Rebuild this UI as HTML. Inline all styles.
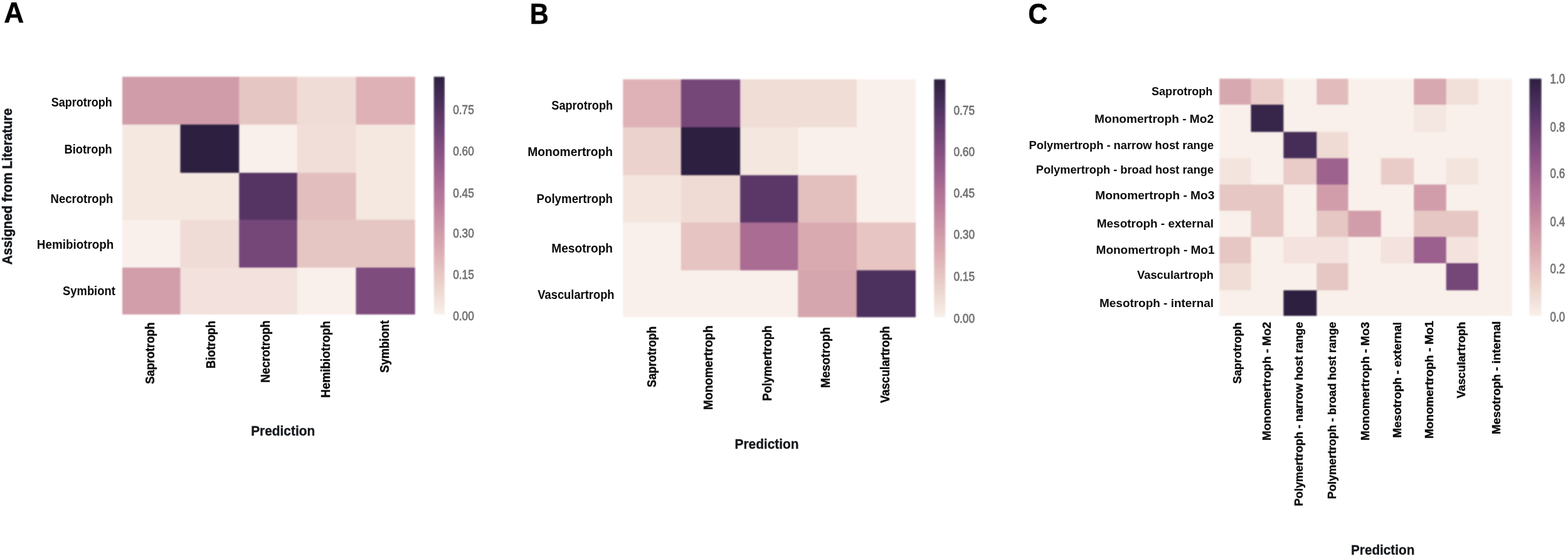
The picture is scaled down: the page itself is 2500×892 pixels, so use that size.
<!DOCTYPE html>
<html lang="en">
<head>
<meta charset="utf-8">
<title>Confusion matrices of trophic class predictions</title>
<style>
html,body{margin:0;padding:0;background:#fff;}
body{width:2500px;height:892px;}
svg{display:block;font-family:"Liberation Sans",Arial,Helvetica,sans-serif;}
</style>
</head>
<body>
<svg role="img" aria-label="Heatmap confusion matrices A, B and C" width="2500" height="892" viewBox="0 0 2500 892">
<defs>
<filter id="soft" x="-5%" y="-5%" width="110%" height="110%" color-interpolation-filters="sRGB"><feGaussianBlur stdDeviation="0.8"/></filter>
</defs>
<g>
<rect x="0" y="0" width="2500" height="892" fill="#ffffff"/>
<mask id="hm1" maskUnits="userSpaceOnUse" x="191.00" y="118.50" width="474.75" height="387.30"><rect x="195.00" y="122.50" width="466.75" height="379.30" fill="#fff"/></mask>
<g filter="url(#soft)"><g mask="url(#hm1)">
<rect x="192.00" y="119.50" width="97.00" height="80.75" fill="#d19caa"/>
<rect x="287.50" y="119.50" width="95.25" height="80.75" fill="#d19caa"/>
<rect x="381.25" y="119.50" width="94.00" height="80.75" fill="#e6c6c3"/>
<rect x="473.75" y="119.50" width="95.25" height="80.75" fill="#f0dcd7"/>
<rect x="567.50" y="119.50" width="97.25" height="80.75" fill="#deb1b6"/>
<rect x="192.00" y="198.75" width="97.00" height="78.50" fill="#f4e8e1"/>
<rect x="287.50" y="198.75" width="95.25" height="78.50" fill="#2d1f3f"/>
<rect x="381.25" y="198.75" width="94.00" height="78.50" fill="#f9f0eb"/>
<rect x="473.75" y="198.75" width="95.25" height="78.50" fill="#f1ded8"/>
<rect x="567.50" y="198.75" width="97.25" height="78.50" fill="#f4e8e1"/>
<rect x="192.00" y="275.75" width="97.00" height="76.50" fill="#f4e8e1"/>
<rect x="287.50" y="275.75" width="95.25" height="76.50" fill="#f4e8e1"/>
<rect x="381.25" y="275.75" width="94.00" height="76.50" fill="#553464"/>
<rect x="473.75" y="275.75" width="95.25" height="76.50" fill="#e3bebe"/>
<rect x="567.50" y="275.75" width="97.25" height="76.50" fill="#f4e8e1"/>
<rect x="192.00" y="350.75" width="97.00" height="77.75" fill="#f9f0eb"/>
<rect x="287.50" y="350.75" width="95.25" height="77.75" fill="#f0dcd7"/>
<rect x="381.25" y="350.75" width="94.00" height="77.75" fill="#754678"/>
<rect x="473.75" y="350.75" width="95.25" height="77.75" fill="#e6c6c3"/>
<rect x="567.50" y="350.75" width="97.25" height="77.75" fill="#e6c6c3"/>
<rect x="192.00" y="427.00" width="97.00" height="77.80" fill="#d29eaa"/>
<rect x="287.50" y="427.00" width="95.25" height="77.80" fill="#f2e1dc"/>
<rect x="381.25" y="427.00" width="94.00" height="77.80" fill="#f2e1dc"/>
<rect x="473.75" y="427.00" width="95.25" height="77.80" fill="#f9f0eb"/>
<rect x="567.50" y="427.00" width="97.25" height="77.80" fill="#7e4c7d"/>
</g></g>
<linearGradient id="ga" x1="0" y1="0" x2="0" y2="1"><stop offset="0.0000" stop-color="#2d1f3f"/><stop offset="0.0312" stop-color="#362448"/><stop offset="0.0625" stop-color="#3e2950"/><stop offset="0.0938" stop-color="#472d59"/><stop offset="0.1250" stop-color="#503260"/><stop offset="0.1562" stop-color="#5a3767"/><stop offset="0.1875" stop-color="#633c6d"/><stop offset="0.2188" stop-color="#6d4173"/><stop offset="0.2500" stop-color="#754678"/><stop offset="0.2812" stop-color="#7e4c7d"/><stop offset="0.3125" stop-color="#875182"/><stop offset="0.3438" stop-color="#905787"/><stop offset="0.3750" stop-color="#975d8b"/><stop offset="0.4062" stop-color="#9f638f"/><stop offset="0.4375" stop-color="#a76992"/><stop offset="0.4688" stop-color="#ae7095"/><stop offset="0.5000" stop-color="#b47699"/><stop offset="0.5312" stop-color="#ba7d9c"/><stop offset="0.5625" stop-color="#c0849f"/><stop offset="0.5938" stop-color="#c68ca2"/><stop offset="0.6250" stop-color="#cb93a6"/><stop offset="0.6562" stop-color="#d09baa"/><stop offset="0.6875" stop-color="#d5a3ad"/><stop offset="0.7188" stop-color="#d9a9b1"/><stop offset="0.7500" stop-color="#deb1b6"/><stop offset="0.7812" stop-color="#e1babb"/><stop offset="0.8125" stop-color="#e4c2c0"/><stop offset="0.8438" stop-color="#e8cac5"/><stop offset="0.8750" stop-color="#ebd2cc"/><stop offset="0.9062" stop-color="#eedad3"/><stop offset="0.9375" stop-color="#f2e1db"/><stop offset="0.9688" stop-color="#f5e9e2"/><stop offset="1.0000" stop-color="#f9f0eb"/></linearGradient>
<rect x="691.70" y="122.50" width="17.20" height="379.30" fill="url(#ga)" filter="url(#soft)"/>
<text x="722.20" y="182.00" font-size="21.0" font-weight="normal" fill="#747474" stroke="#747474" stroke-width="0.80" stroke-linejoin="round" textLength="33.60" lengthAdjust="spacingAndGlyphs">0.75</text>
<text x="722.20" y="248.25" font-size="21.0" font-weight="normal" fill="#747474" stroke="#747474" stroke-width="0.80" stroke-linejoin="round" textLength="33.60" lengthAdjust="spacingAndGlyphs">0.60</text>
<text x="722.20" y="314.50" font-size="21.0" font-weight="normal" fill="#747474" stroke="#747474" stroke-width="0.80" stroke-linejoin="round" textLength="33.60" lengthAdjust="spacingAndGlyphs">0.45</text>
<text x="722.20" y="379.00" font-size="21.0" font-weight="normal" fill="#747474" stroke="#747474" stroke-width="0.80" stroke-linejoin="round" textLength="33.60" lengthAdjust="spacingAndGlyphs">0.30</text>
<text x="722.20" y="445.00" font-size="21.0" font-weight="normal" fill="#747474" stroke="#747474" stroke-width="0.80" stroke-linejoin="round" textLength="33.60" lengthAdjust="spacingAndGlyphs">0.15</text>
<text x="722.20" y="511.25" font-size="21.0" font-weight="normal" fill="#747474" stroke="#747474" stroke-width="0.80" stroke-linejoin="round" textLength="33.60" lengthAdjust="spacingAndGlyphs">0.00</text>
<text x="81.80" y="170.30" font-size="19.3" font-weight="bold" fill="#0a0a0a" textLength="97.00" lengthAdjust="spacingAndGlyphs">Saprotroph</text>
<text x="102.55" y="244.80" font-size="19.3" font-weight="bold" fill="#0a0a0a" textLength="76.25" lengthAdjust="spacingAndGlyphs">Biotroph</text>
<text x="80.55" y="323.55" font-size="19.3" font-weight="bold" fill="#0a0a0a" textLength="99.75" lengthAdjust="spacingAndGlyphs">Necrotroph</text>
<text x="58.80" y="396.80" font-size="19.3" font-weight="bold" fill="#0a0a0a" textLength="122.50" lengthAdjust="spacingAndGlyphs">Hemibiotroph</text>
<text x="100.05" y="470.55" font-size="19.3" font-weight="bold" fill="#0a0a0a" textLength="83.75" lengthAdjust="spacingAndGlyphs">Symbiont</text>
<text transform="translate(246.25 612.65) rotate(-90)" font-size="19.3" font-weight="bold" fill="#0a0a0a" stroke="#0a0a0a" stroke-width="0.40" stroke-linejoin="round" textLength="98.25" lengthAdjust="spacingAndGlyphs">Saprotroph</text>
<text transform="translate(342.50 587.90) rotate(-90)" font-size="19.3" font-weight="bold" fill="#0a0a0a" stroke="#0a0a0a" stroke-width="0.40" stroke-linejoin="round" textLength="76.00" lengthAdjust="spacingAndGlyphs">Biotroph</text>
<text transform="translate(430.00 610.40) rotate(-90)" font-size="19.3" font-weight="bold" fill="#0a0a0a" stroke="#0a0a0a" stroke-width="0.40" stroke-linejoin="round" textLength="99.25" lengthAdjust="spacingAndGlyphs">Necrotroph</text>
<text transform="translate(525.75 634.65) rotate(-90)" font-size="19.3" font-weight="bold" fill="#0a0a0a" stroke="#0a0a0a" stroke-width="0.40" stroke-linejoin="round" textLength="122.75" lengthAdjust="spacingAndGlyphs">Hemibiotroph</text>
<text transform="translate(619.50 594.65) rotate(-90)" font-size="19.3" font-weight="bold" fill="#0a0a0a" stroke="#0a0a0a" stroke-width="0.40" stroke-linejoin="round" textLength="83.50" lengthAdjust="spacingAndGlyphs">Symbiont</text>
<text x="400.20" y="694.70" font-size="22.3" font-weight="bold" fill="#14181c" stroke="#14181c" stroke-width="0.35" stroke-linejoin="round" textLength="102.00" lengthAdjust="spacingAndGlyphs">Prediction</text>
<text transform="translate(19.10 422.30) rotate(-90)" font-size="22.3" font-weight="bold" fill="#14181c" stroke="#14181c" stroke-width="0.60" stroke-linejoin="round" textLength="249.50" lengthAdjust="spacingAndGlyphs">Assigned from Literature</text>
<text x="6.30" y="35.70" font-size="46.2" font-weight="bold" fill="#000" stroke="#000" stroke-width="0.50" stroke-linejoin="round" textLength="32.00" lengthAdjust="spacingAndGlyphs">A</text>
<mask id="hm2" maskUnits="userSpaceOnUse" x="989.25" y="122.60" width="474.75" height="387.60"><rect x="993.25" y="126.60" width="466.75" height="379.60" fill="#fff"/></mask>
<g filter="url(#soft)"><g mask="url(#hm2)">
<rect x="990.25" y="123.60" width="97.10" height="81.00" fill="#deb2b6"/>
<rect x="1085.85" y="123.60" width="95.75" height="81.00" fill="#754678"/>
<rect x="1180.10" y="123.60" width="93.60" height="81.00" fill="#efddd6"/>
<rect x="1272.20" y="123.60" width="95.15" height="81.00" fill="#efddd6"/>
<rect x="1365.85" y="123.60" width="97.15" height="81.00" fill="#f9f0eb"/>
<rect x="990.25" y="203.10" width="97.10" height="78.00" fill="#ebd2cc"/>
<rect x="1085.85" y="203.10" width="95.75" height="78.00" fill="#2d1f3f"/>
<rect x="1180.10" y="203.10" width="93.60" height="78.00" fill="#f4e7e0"/>
<rect x="1272.20" y="203.10" width="95.15" height="78.00" fill="#f9f0eb"/>
<rect x="1365.85" y="203.10" width="97.15" height="78.00" fill="#f9f0eb"/>
<rect x="990.25" y="279.60" width="97.10" height="77.05" fill="#f4e5df"/>
<rect x="1085.85" y="279.60" width="95.75" height="77.05" fill="#efdbd4"/>
<rect x="1180.10" y="279.60" width="93.60" height="77.05" fill="#5b3768"/>
<rect x="1272.20" y="279.60" width="95.15" height="77.05" fill="#e3bfbe"/>
<rect x="1365.85" y="279.60" width="97.15" height="77.05" fill="#f9f0eb"/>
<rect x="990.25" y="355.15" width="97.10" height="77.70" fill="#f9f0eb"/>
<rect x="1085.85" y="355.15" width="95.75" height="77.70" fill="#e5c4c1"/>
<rect x="1180.10" y="355.15" width="93.60" height="77.70" fill="#aa6c93"/>
<rect x="1272.20" y="355.15" width="95.15" height="77.70" fill="#daaab1"/>
<rect x="1365.85" y="355.15" width="97.15" height="77.70" fill="#e6c5c2"/>
<rect x="990.25" y="431.35" width="97.10" height="77.85" fill="#f9f0eb"/>
<rect x="1085.85" y="431.35" width="95.75" height="77.85" fill="#f9f0eb"/>
<rect x="1180.10" y="431.35" width="93.60" height="77.85" fill="#f9f0eb"/>
<rect x="1272.20" y="431.35" width="95.15" height="77.85" fill="#d6a6ae"/>
<rect x="1365.85" y="431.35" width="97.15" height="77.85" fill="#4c305d"/>
</g></g>
<linearGradient id="gb" x1="0" y1="0" x2="0" y2="1"><stop offset="0.0000" stop-color="#2d1f3f"/><stop offset="0.0312" stop-color="#362448"/><stop offset="0.0625" stop-color="#3e2950"/><stop offset="0.0938" stop-color="#472d59"/><stop offset="0.1250" stop-color="#503260"/><stop offset="0.1562" stop-color="#5a3767"/><stop offset="0.1875" stop-color="#633c6d"/><stop offset="0.2188" stop-color="#6d4173"/><stop offset="0.2500" stop-color="#754678"/><stop offset="0.2812" stop-color="#7e4c7d"/><stop offset="0.3125" stop-color="#875182"/><stop offset="0.3438" stop-color="#905787"/><stop offset="0.3750" stop-color="#975d8b"/><stop offset="0.4062" stop-color="#9f638f"/><stop offset="0.4375" stop-color="#a76992"/><stop offset="0.4688" stop-color="#ae7095"/><stop offset="0.5000" stop-color="#b47699"/><stop offset="0.5312" stop-color="#ba7d9c"/><stop offset="0.5625" stop-color="#c0849f"/><stop offset="0.5938" stop-color="#c68ca2"/><stop offset="0.6250" stop-color="#cb93a6"/><stop offset="0.6562" stop-color="#d09baa"/><stop offset="0.6875" stop-color="#d5a3ad"/><stop offset="0.7188" stop-color="#d9a9b1"/><stop offset="0.7500" stop-color="#deb1b6"/><stop offset="0.7812" stop-color="#e1babb"/><stop offset="0.8125" stop-color="#e4c2c0"/><stop offset="0.8438" stop-color="#e8cac5"/><stop offset="0.8750" stop-color="#ebd2cc"/><stop offset="0.9062" stop-color="#eedad3"/><stop offset="0.9375" stop-color="#f2e1db"/><stop offset="0.9688" stop-color="#f5e9e2"/><stop offset="1.0000" stop-color="#f9f0eb"/></linearGradient>
<rect x="1489.20" y="126.60" width="18.10" height="379.50" fill="url(#gb)" filter="url(#soft)"/>
<text x="1520.45" y="182.75" font-size="21.0" font-weight="normal" fill="#747474" stroke="#747474" stroke-width="0.80" stroke-linejoin="round" textLength="33.60" lengthAdjust="spacingAndGlyphs">0.75</text>
<text x="1520.45" y="248.75" font-size="21.0" font-weight="normal" fill="#747474" stroke="#747474" stroke-width="0.80" stroke-linejoin="round" textLength="33.60" lengthAdjust="spacingAndGlyphs">0.60</text>
<text x="1520.45" y="315.00" font-size="21.0" font-weight="normal" fill="#747474" stroke="#747474" stroke-width="0.80" stroke-linejoin="round" textLength="33.60" lengthAdjust="spacingAndGlyphs">0.45</text>
<text x="1520.45" y="381.25" font-size="21.0" font-weight="normal" fill="#747474" stroke="#747474" stroke-width="0.80" stroke-linejoin="round" textLength="33.60" lengthAdjust="spacingAndGlyphs">0.30</text>
<text x="1520.45" y="447.50" font-size="21.0" font-weight="normal" fill="#747474" stroke="#747474" stroke-width="0.80" stroke-linejoin="round" textLength="33.60" lengthAdjust="spacingAndGlyphs">0.15</text>
<text x="1520.45" y="515.25" font-size="21.0" font-weight="normal" fill="#747474" stroke="#747474" stroke-width="0.80" stroke-linejoin="round" textLength="33.60" lengthAdjust="spacingAndGlyphs">0.00</text>
<text x="879.30" y="174.80" font-size="19.3" font-weight="bold" fill="#0a0a0a" textLength="97.75" lengthAdjust="spacingAndGlyphs">Saprotroph</text>
<text x="841.30" y="249.05" font-size="19.3" font-weight="bold" fill="#0a0a0a" textLength="135.75" lengthAdjust="spacingAndGlyphs">Monomertroph</text>
<text x="855.55" y="323.55" font-size="19.3" font-weight="bold" fill="#0a0a0a" textLength="121.50" lengthAdjust="spacingAndGlyphs">Polymertroph</text>
<text x="879.30" y="402.80" font-size="19.3" font-weight="bold" fill="#0a0a0a" textLength="97.75" lengthAdjust="spacingAndGlyphs">Mesotroph</text>
<text x="857.30" y="476.80" font-size="19.3" font-weight="bold" fill="#0a0a0a" textLength="122.25" lengthAdjust="spacingAndGlyphs">Vasculartroph</text>
<text transform="translate(1046.25 617.90) rotate(-90)" font-size="19.3" font-weight="bold" fill="#0a0a0a" stroke="#0a0a0a" stroke-width="0.40" stroke-linejoin="round" textLength="97.25" lengthAdjust="spacingAndGlyphs">Saprotroph</text>
<text transform="translate(1136.25 653.90) rotate(-90)" font-size="19.3" font-weight="bold" fill="#0a0a0a" stroke="#0a0a0a" stroke-width="0.40" stroke-linejoin="round" textLength="134.50" lengthAdjust="spacingAndGlyphs">Monomertroph</text>
<text transform="translate(1230.00 639.65) rotate(-90)" font-size="19.3" font-weight="bold" fill="#0a0a0a" stroke="#0a0a0a" stroke-width="0.40" stroke-linejoin="round" textLength="120.25" lengthAdjust="spacingAndGlyphs">Polymertroph</text>
<text transform="translate(1323.25 618.90) rotate(-90)" font-size="19.3" font-weight="bold" fill="#0a0a0a" stroke="#0a0a0a" stroke-width="0.40" stroke-linejoin="round" textLength="97.00" lengthAdjust="spacingAndGlyphs">Mesotroph</text>
<text transform="translate(1417.50 642.90) rotate(-90)" font-size="19.3" font-weight="bold" fill="#0a0a0a" stroke="#0a0a0a" stroke-width="0.40" stroke-linejoin="round" textLength="122.25" lengthAdjust="spacingAndGlyphs">Vasculartroph</text>
<text x="1171.50" y="715.95" font-size="22.3" font-weight="bold" fill="#14181c" stroke="#14181c" stroke-width="0.35" stroke-linejoin="round" textLength="102.00" lengthAdjust="spacingAndGlyphs">Prediction</text>
<text x="844.70" y="38.20" font-size="46.2" font-weight="bold" fill="#000" stroke="#000" stroke-width="0.50" stroke-linejoin="round" textLength="30.00" lengthAdjust="spacingAndGlyphs">B</text>
<mask id="hm3" maskUnits="userSpaceOnUse" x="1940.25" y="121.50" width="474.50" height="386.50"><rect x="1944.25" y="125.50" width="466.50" height="378.50" fill="#fff"/></mask>
<g filter="url(#soft)"><g mask="url(#hm3)">
<rect x="1941.25" y="122.50" width="54.75" height="46.00" fill="#d8a8b0"/>
<rect x="1994.50" y="122.50" width="53.40" height="46.00" fill="#eacdc8"/>
<rect x="2046.40" y="122.50" width="54.35" height="46.00" fill="#f9f0eb"/>
<rect x="2099.25" y="122.50" width="51.75" height="46.00" fill="#e2bbbc"/>
<rect x="2149.50" y="122.50" width="53.75" height="46.00" fill="#f9f0eb"/>
<rect x="2201.75" y="122.50" width="54.00" height="46.00" fill="#f9f0eb"/>
<rect x="2254.25" y="122.50" width="53.00" height="46.00" fill="#d8a8b0"/>
<rect x="2305.75" y="122.50" width="52.50" height="46.00" fill="#f1dfd9"/>
<rect x="2356.75" y="122.50" width="57.00" height="46.00" fill="#f9f0eb"/>
<rect x="1941.25" y="167.00" width="54.75" height="45.00" fill="#f9f0eb"/>
<rect x="1994.50" y="167.00" width="53.40" height="45.00" fill="#37254a"/>
<rect x="2046.40" y="167.00" width="54.35" height="45.00" fill="#f9f0eb"/>
<rect x="2099.25" y="167.00" width="51.75" height="45.00" fill="#f9f0eb"/>
<rect x="2149.50" y="167.00" width="53.75" height="45.00" fill="#f9f0eb"/>
<rect x="2201.75" y="167.00" width="54.00" height="45.00" fill="#f9f0eb"/>
<rect x="2254.25" y="167.00" width="53.00" height="45.00" fill="#f4e6e0"/>
<rect x="2305.75" y="167.00" width="52.50" height="45.00" fill="#f9f0eb"/>
<rect x="2356.75" y="167.00" width="57.00" height="45.00" fill="#f9f0eb"/>
<rect x="1941.25" y="210.50" width="54.75" height="43.50" fill="#f9f0eb"/>
<rect x="1994.50" y="210.50" width="53.40" height="43.50" fill="#f9f0eb"/>
<rect x="2046.40" y="210.50" width="54.35" height="43.50" fill="#462d58"/>
<rect x="2099.25" y="210.50" width="51.75" height="43.50" fill="#efdbd4"/>
<rect x="2149.50" y="210.50" width="53.75" height="43.50" fill="#f9f0eb"/>
<rect x="2201.75" y="210.50" width="54.00" height="43.50" fill="#f9f0eb"/>
<rect x="2254.25" y="210.50" width="53.00" height="43.50" fill="#f9f0eb"/>
<rect x="2305.75" y="210.50" width="52.50" height="43.50" fill="#f9f0eb"/>
<rect x="2356.75" y="210.50" width="57.00" height="43.50" fill="#f9f0eb"/>
<rect x="1941.25" y="252.50" width="54.75" height="43.50" fill="#f3e4de"/>
<rect x="1994.50" y="252.50" width="53.40" height="43.50" fill="#f9f0eb"/>
<rect x="2046.40" y="252.50" width="54.35" height="43.50" fill="#e9cbc7"/>
<rect x="2099.25" y="252.50" width="51.75" height="43.50" fill="#9d628e"/>
<rect x="2149.50" y="252.50" width="53.75" height="43.50" fill="#f9f0eb"/>
<rect x="2201.75" y="252.50" width="54.00" height="43.50" fill="#e9cbc7"/>
<rect x="2254.25" y="252.50" width="53.00" height="43.50" fill="#f9f0eb"/>
<rect x="2305.75" y="252.50" width="52.50" height="43.50" fill="#f3e4de"/>
<rect x="2356.75" y="252.50" width="57.00" height="43.50" fill="#f9f0eb"/>
<rect x="1941.25" y="294.50" width="54.75" height="43.25" fill="#e6c7c3"/>
<rect x="1994.50" y="294.50" width="53.40" height="43.25" fill="#e6c7c3"/>
<rect x="2046.40" y="294.50" width="54.35" height="43.25" fill="#f9f0eb"/>
<rect x="2099.25" y="294.50" width="51.75" height="43.25" fill="#d29dab"/>
<rect x="2149.50" y="294.50" width="53.75" height="43.25" fill="#f9f0eb"/>
<rect x="2201.75" y="294.50" width="54.00" height="43.25" fill="#f9f0eb"/>
<rect x="2254.25" y="294.50" width="53.00" height="43.25" fill="#d29dab"/>
<rect x="2305.75" y="294.50" width="52.50" height="43.25" fill="#f9f0eb"/>
<rect x="2356.75" y="294.50" width="57.00" height="43.25" fill="#f9f0eb"/>
<rect x="1941.25" y="336.25" width="54.75" height="43.25" fill="#f9f0eb"/>
<rect x="1994.50" y="336.25" width="53.40" height="43.25" fill="#e6c7c3"/>
<rect x="2046.40" y="336.25" width="54.35" height="43.25" fill="#f9f0eb"/>
<rect x="2099.25" y="336.25" width="51.75" height="43.25" fill="#e6c7c3"/>
<rect x="2149.50" y="336.25" width="53.75" height="43.25" fill="#d29dab"/>
<rect x="2201.75" y="336.25" width="54.00" height="43.25" fill="#f9f0eb"/>
<rect x="2254.25" y="336.25" width="53.00" height="43.25" fill="#e6c7c3"/>
<rect x="2305.75" y="336.25" width="52.50" height="43.25" fill="#e6c7c3"/>
<rect x="2356.75" y="336.25" width="57.00" height="43.25" fill="#f9f0eb"/>
<rect x="1941.25" y="378.00" width="54.75" height="43.50" fill="#e6c7c3"/>
<rect x="1994.50" y="378.00" width="53.40" height="43.50" fill="#f9f0eb"/>
<rect x="2046.40" y="378.00" width="54.35" height="43.50" fill="#f3e2dd"/>
<rect x="2099.25" y="378.00" width="51.75" height="43.50" fill="#f3e2dd"/>
<rect x="2149.50" y="378.00" width="53.75" height="43.50" fill="#f9f0eb"/>
<rect x="2201.75" y="378.00" width="54.00" height="43.50" fill="#f3e2dd"/>
<rect x="2254.25" y="378.00" width="53.00" height="43.50" fill="#9b608d"/>
<rect x="2305.75" y="378.00" width="52.50" height="43.50" fill="#f3e2dd"/>
<rect x="2356.75" y="378.00" width="57.00" height="43.50" fill="#f9f0eb"/>
<rect x="1941.25" y="420.00" width="54.75" height="44.75" fill="#efddd6"/>
<rect x="1994.50" y="420.00" width="53.40" height="44.75" fill="#f9f0eb"/>
<rect x="2046.40" y="420.00" width="54.35" height="44.75" fill="#f9f0eb"/>
<rect x="2099.25" y="420.00" width="51.75" height="44.75" fill="#e6c7c3"/>
<rect x="2149.50" y="420.00" width="53.75" height="44.75" fill="#f9f0eb"/>
<rect x="2201.75" y="420.00" width="54.00" height="44.75" fill="#f9f0eb"/>
<rect x="2254.25" y="420.00" width="53.00" height="44.75" fill="#f9f0eb"/>
<rect x="2305.75" y="420.00" width="52.50" height="44.75" fill="#754678"/>
<rect x="2356.75" y="420.00" width="57.00" height="44.75" fill="#f9f0eb"/>
<rect x="1941.25" y="463.25" width="54.75" height="43.75" fill="#f9f0eb"/>
<rect x="1994.50" y="463.25" width="53.40" height="43.75" fill="#f9f0eb"/>
<rect x="2046.40" y="463.25" width="54.35" height="43.75" fill="#2d1f3f"/>
<rect x="2099.25" y="463.25" width="51.75" height="43.75" fill="#f9f0eb"/>
<rect x="2149.50" y="463.25" width="53.75" height="43.75" fill="#f9f0eb"/>
<rect x="2201.75" y="463.25" width="54.00" height="43.75" fill="#f9f0eb"/>
<rect x="2254.25" y="463.25" width="53.00" height="43.75" fill="#f9f0eb"/>
<rect x="2305.75" y="463.25" width="52.50" height="43.75" fill="#f9f0eb"/>
<rect x="2356.75" y="463.25" width="57.00" height="43.75" fill="#f9f0eb"/>
</g></g>
<linearGradient id="gc" x1="0" y1="0" x2="0" y2="1"><stop offset="0.0000" stop-color="#2d1f3f"/><stop offset="0.0312" stop-color="#362448"/><stop offset="0.0625" stop-color="#3e2950"/><stop offset="0.0938" stop-color="#472d59"/><stop offset="0.1250" stop-color="#503260"/><stop offset="0.1562" stop-color="#5a3767"/><stop offset="0.1875" stop-color="#633c6d"/><stop offset="0.2188" stop-color="#6d4173"/><stop offset="0.2500" stop-color="#754678"/><stop offset="0.2812" stop-color="#7e4c7d"/><stop offset="0.3125" stop-color="#875182"/><stop offset="0.3438" stop-color="#905787"/><stop offset="0.3750" stop-color="#975d8b"/><stop offset="0.4062" stop-color="#9f638f"/><stop offset="0.4375" stop-color="#a76992"/><stop offset="0.4688" stop-color="#ae7095"/><stop offset="0.5000" stop-color="#b47699"/><stop offset="0.5312" stop-color="#ba7d9c"/><stop offset="0.5625" stop-color="#c0849f"/><stop offset="0.5938" stop-color="#c68ca2"/><stop offset="0.6250" stop-color="#cb93a6"/><stop offset="0.6562" stop-color="#d09baa"/><stop offset="0.6875" stop-color="#d5a3ad"/><stop offset="0.7188" stop-color="#d9a9b1"/><stop offset="0.7500" stop-color="#deb1b6"/><stop offset="0.7812" stop-color="#e1babb"/><stop offset="0.8125" stop-color="#e4c2c0"/><stop offset="0.8438" stop-color="#e8cac5"/><stop offset="0.8750" stop-color="#ebd2cc"/><stop offset="0.9062" stop-color="#eedad3"/><stop offset="0.9375" stop-color="#f2e1db"/><stop offset="0.9688" stop-color="#f5e9e2"/><stop offset="1.0000" stop-color="#f9f0eb"/></linearGradient>
<rect x="2438.50" y="125.50" width="19.10" height="378.50" fill="url(#gc)" filter="url(#soft)"/>
<text x="2471.60" y="132.60" font-size="21.6" font-weight="normal" fill="#747474" stroke="#747474" stroke-width="0.80" stroke-linejoin="round" textLength="23.60" lengthAdjust="spacingAndGlyphs">1.0</text>
<text x="2471.60" y="209.60" font-size="21.6" font-weight="normal" fill="#747474" stroke="#747474" stroke-width="0.80" stroke-linejoin="round" textLength="23.60" lengthAdjust="spacingAndGlyphs">0.8</text>
<text x="2471.60" y="284.10" font-size="21.6" font-weight="normal" fill="#747474" stroke="#747474" stroke-width="0.80" stroke-linejoin="round" textLength="23.60" lengthAdjust="spacingAndGlyphs">0.6</text>
<text x="2471.60" y="360.85" font-size="21.6" font-weight="normal" fill="#747474" stroke="#747474" stroke-width="0.80" stroke-linejoin="round" textLength="23.60" lengthAdjust="spacingAndGlyphs">0.4</text>
<text x="2471.60" y="436.35" font-size="21.6" font-weight="normal" fill="#747474" stroke="#747474" stroke-width="0.80" stroke-linejoin="round" textLength="23.60" lengthAdjust="spacingAndGlyphs">0.2</text>
<text x="2471.60" y="512.85" font-size="21.6" font-weight="normal" fill="#747474" stroke="#747474" stroke-width="0.80" stroke-linejoin="round" textLength="23.60" lengthAdjust="spacingAndGlyphs">0.0</text>
<text x="1836.05" y="151.80" font-size="19.0" font-weight="bold" fill="#0a0a0a" textLength="97.25" lengthAdjust="spacingAndGlyphs">Saprotroph</text>
<text x="1745.05" y="195.55" font-size="19.0" font-weight="bold" fill="#0a0a0a" textLength="190.00" lengthAdjust="spacingAndGlyphs">Monomertroph - Mo2</text>
<text x="1640.55" y="237.80" font-size="19.0" font-weight="bold" fill="#0a0a0a" textLength="294.50" lengthAdjust="spacingAndGlyphs">Polymertroph - narrow host range</text>
<text x="1651.80" y="277.30" font-size="19.0" font-weight="bold" fill="#0a0a0a" textLength="283.25" lengthAdjust="spacingAndGlyphs">Polymertroph - broad host range</text>
<text x="1746.30" y="317.80" font-size="19.0" font-weight="bold" fill="#0a0a0a" textLength="190.00" lengthAdjust="spacingAndGlyphs">Monomertroph - Mo3</text>
<text x="1748.80" y="362.80" font-size="19.0" font-weight="bold" fill="#0a0a0a" textLength="186.25" lengthAdjust="spacingAndGlyphs">Mesotroph - external</text>
<text x="1747.55" y="405.30" font-size="19.0" font-weight="bold" fill="#0a0a0a" textLength="189.00" lengthAdjust="spacingAndGlyphs">Monomertroph - Mo1</text>
<text x="1813.05" y="444.80" font-size="19.0" font-weight="bold" fill="#0a0a0a" textLength="122.00" lengthAdjust="spacingAndGlyphs">Vasculartroph</text>
<text x="1753.05" y="489.80" font-size="19.0" font-weight="bold" fill="#0a0a0a" textLength="182.00" lengthAdjust="spacingAndGlyphs">Mesotroph - internal</text>
<text transform="translate(1978.75 612.15) rotate(-90)" font-size="19.0" font-weight="bold" fill="#0a0a0a" stroke="#0a0a0a" stroke-width="0.40" stroke-linejoin="round" textLength="97.75" lengthAdjust="spacingAndGlyphs">Saprotroph</text>
<text transform="translate(2026.25 702.90) rotate(-90)" font-size="19.0" font-weight="bold" fill="#0a0a0a" stroke="#0a0a0a" stroke-width="0.40" stroke-linejoin="round" textLength="189.25" lengthAdjust="spacingAndGlyphs">Monomertroph - Mo2</text>
<text transform="translate(2077.00 807.40) rotate(-90)" font-size="19.0" font-weight="bold" fill="#0a0a0a" stroke="#0a0a0a" stroke-width="0.40" stroke-linejoin="round" textLength="293.75" lengthAdjust="spacingAndGlyphs">Polymertroph - narrow host range</text>
<text transform="translate(2130.00 796.15) rotate(-90)" font-size="19.0" font-weight="bold" fill="#0a0a0a" stroke="#0a0a0a" stroke-width="0.40" stroke-linejoin="round" textLength="282.50" lengthAdjust="spacingAndGlyphs">Polymertroph - broad host range</text>
<text transform="translate(2183.00 702.90) rotate(-90)" font-size="19.0" font-weight="bold" fill="#0a0a0a" stroke="#0a0a0a" stroke-width="0.40" stroke-linejoin="round" textLength="189.25" lengthAdjust="spacingAndGlyphs">Monomertroph - Mo3</text>
<text transform="translate(2233.75 698.40) rotate(-90)" font-size="19.0" font-weight="bold" fill="#0a0a0a" stroke="#0a0a0a" stroke-width="0.40" stroke-linejoin="round" textLength="184.75" lengthAdjust="spacingAndGlyphs">Mesotroph - external</text>
<text transform="translate(2285.00 699.90) rotate(-90)" font-size="19.0" font-weight="bold" fill="#0a0a0a" stroke="#0a0a0a" stroke-width="0.40" stroke-linejoin="round" textLength="188.00" lengthAdjust="spacingAndGlyphs">Monomertroph - Mo1</text>
<text transform="translate(2335.50 635.40) rotate(-90)" font-size="19.0" font-weight="bold" fill="#0a0a0a" stroke="#0a0a0a" stroke-width="0.40" stroke-linejoin="round" textLength="121.75" lengthAdjust="spacingAndGlyphs">Vasculartroph</text>
<text transform="translate(2391.75 692.90) rotate(-90)" font-size="19.0" font-weight="bold" fill="#0a0a0a" stroke="#0a0a0a" stroke-width="0.40" stroke-linejoin="round" textLength="180.50" lengthAdjust="spacingAndGlyphs">Mesotroph - internal</text>
<text x="2154.00" y="884.95" font-size="22.3" font-weight="bold" fill="#14181c" stroke="#14181c" stroke-width="0.35" stroke-linejoin="round" textLength="101.30" lengthAdjust="spacingAndGlyphs">Prediction</text>
<text x="1639.30" y="38.00" font-size="46.2" font-weight="bold" fill="#000" stroke="#000" stroke-width="0.50" stroke-linejoin="round" textLength="31.10" lengthAdjust="spacingAndGlyphs">C</text>
</g>
</svg>
</body>
</html>
